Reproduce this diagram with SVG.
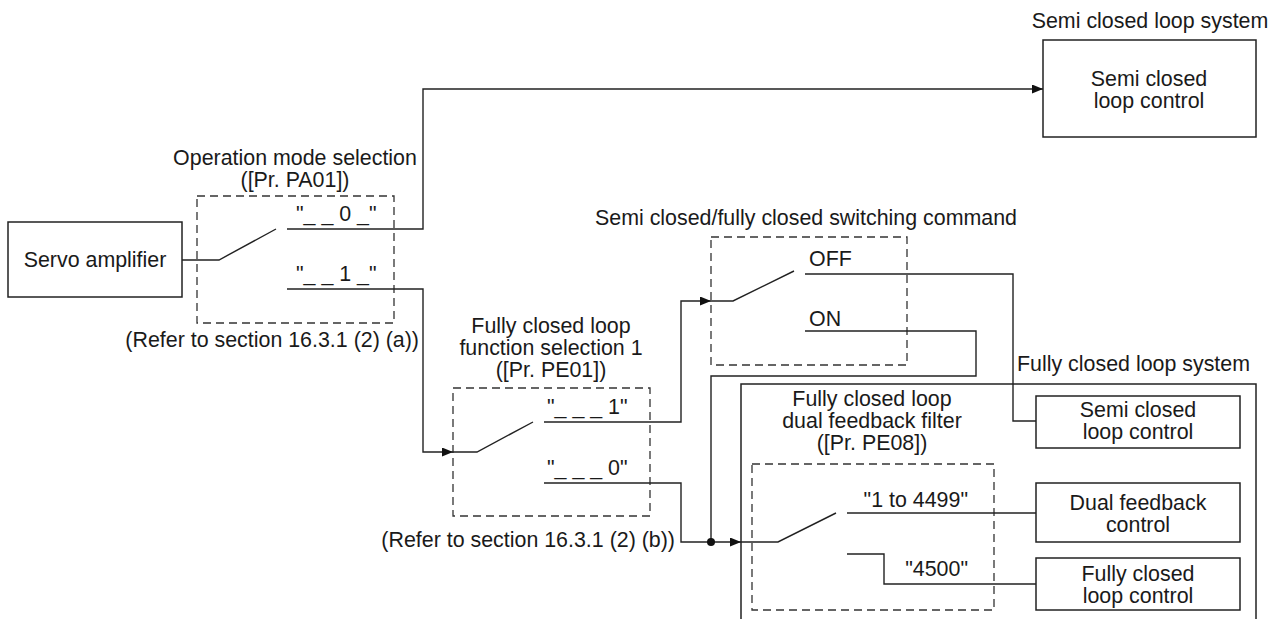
<svg xmlns="http://www.w3.org/2000/svg" width="1278" height="619" viewBox="0 0 1278 619">
<style>
text{font-family:"Liberation Sans",Arial,sans-serif;font-size:21.4px;fill:#1a1a1a}
.m{text-anchor:middle}
.e{text-anchor:end}
.box{fill:#fff;stroke:#222;stroke-width:1.5}
.dash{fill:none;stroke:#333;stroke-width:1.3;stroke-dasharray:8 5}
.ln{fill:none;stroke:#222;stroke-width:1.4}
</style>
<defs>
<marker id="arr" markerWidth="12" markerHeight="10" refX="11" refY="4.5" orient="auto" markerUnits="userSpaceOnUse">
<path d="M0,0 L11,4.5 L0,9 z" fill="#111"/>
</marker>
</defs>
<rect width="1278" height="619" fill="#fff"/>

<g id="fully-closed-system">
<rect class="box" x="741" y="384" width="515" height="250"/>
<text x="1017" y="371">Fully closed loop system</text>
</g>

<g id="semi-closed-system">
<text class="m" x="1150" y="28">Semi closed loop system</text>
<rect class="box" x="1043" y="40" width="213" height="97"/>
<text class="m" x="1149" y="86">Semi closed</text>
<text class="m" x="1149" y="108">loop control</text>
</g>

<g id="servo-amplifier">
<rect class="box" x="8" y="222" width="174" height="75"/>
<text class="m" x="95" y="267">Servo amplifier</text>
</g>

<g id="pa01">
<text class="m" x="295" y="165">Operation mode selection</text>
<text class="m" x="295" y="187">([Pr. PA01])</text>
<rect class="dash" x="197" y="196" width="197" height="127"/>
<text x="296" y="221">"_ _ 0 _"</text>
<text x="296" y="281">"_ _ 1 _"</text>
<text class="e" x="419" y="347">(Refer to section 16.3.1 (2) (a))</text>
</g>

<g id="switch-cmd">
<text class="m" x="806" y="225">Semi closed/fully closed switching command</text>
<rect class="dash" x="711" y="237" width="196" height="128"/>
<text x="809" y="266">OFF</text>
<text x="809" y="326">ON</text>
</g>

<g id="pe01">
<text class="m" x="551" y="333">Fully closed loop</text>
<text class="m" x="551" y="355">function selection 1</text>
<text class="m" x="551" y="377">([Pr. PE01])</text>
<rect class="dash" x="453" y="388" width="197" height="128"/>
<text x="547" y="414">"_ _ _ 1"</text>
<text x="547" y="475">"_ _ _ 0"</text>
<text class="e" x="675" y="547">(Refer to section 16.3.1 (2) (b))</text>
</g>

<g id="pe08">
<text class="m" x="872" y="406">Fully closed loop</text>
<text class="m" x="872" y="428">dual feedback filter</text>
<text class="m" x="872" y="450">([Pr. PE08])</text>
<rect class="dash" x="752" y="464" width="242" height="146"/>
<text class="e" x="968" y="507">"1 to 4499"</text>
<text class="e" x="968" y="576">"4500"</text>
</g>

<g id="semi-ctrl-2">
<rect class="box" x="1036" y="396" width="204" height="52"/>
<text class="m" x="1138" y="417">Semi closed</text>
<text class="m" x="1138" y="439">loop control</text>
</g>

<g id="dual-ctrl">
<rect class="box" x="1036" y="483" width="204" height="59"/>
<text class="m" x="1138" y="510">Dual feedback</text>
<text class="m" x="1138" y="532">control</text>
</g>

<g id="fully-ctrl">
<rect class="box" x="1036" y="558" width="204" height="52"/>
<text class="m" x="1138" y="581">Fully closed</text>
<text class="m" x="1138" y="603">loop control</text>
</g>

<g id="connectors">
<polyline class="ln" points="182,260 219,260 276,229"/>
<polyline class="ln" points="287,229 423,229 423,89 1043,89" marker-end="url(#arr)"/>
<polyline class="ln" points="287,289 423,289 423,452 453,452" marker-end="url(#arr)"/>
<polyline class="ln" points="453,452 477,452 533,422"/>
<polyline class="ln" points="544,422 681,422 681,301 711,301" marker-end="url(#arr)"/>
<polyline class="ln" points="711,301 733,301 794,271"/>
<polyline class="ln" points="805,274 1013,274 1013,421 1036,421"/>
<polyline class="ln" points="805,331 976,331 976,376 711,376 711,542"/>
<polyline class="ln" points="544,483 681,483 681,542 741,542" marker-end="url(#arr)"/>
<circle cx="711" cy="542" r="4" fill="#111"/>
<polyline class="ln" points="741,542 778,542 836,513"/>
<polyline class="ln" points="847,513 1036,513"/>
<polyline class="ln" points="847,554 884,554 884,584 1036,584"/>
</g>
</svg>
